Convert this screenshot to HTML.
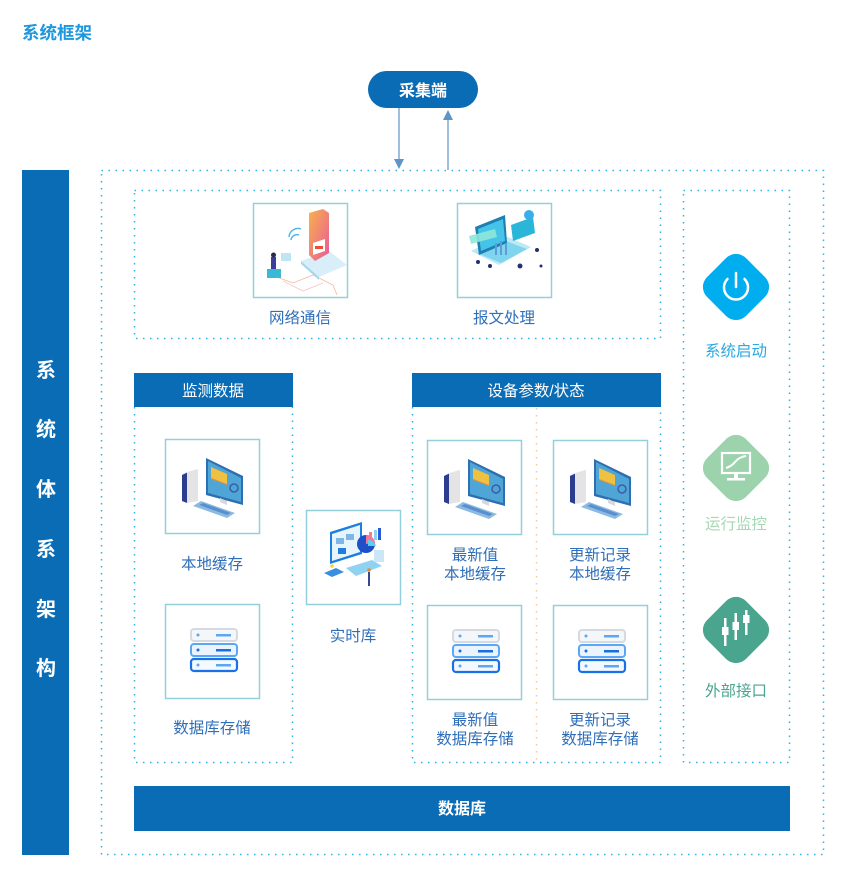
<!DOCTYPE html>
<html><head><meta charset="utf-8"><style>
html,body{margin:0;padding:0;background:#fff;}
svg{display:block;}
text{font-family:"Liberation Sans","Noto Sans CJK SC",sans-serif;}
</style></head><body>
<svg width="850" height="874" viewBox="0 0 850 874" xmlns="http://www.w3.org/2000/svg">
<defs>
<linearGradient id="ph" x1="0" y1="0" x2="1" y2="1"><stop offset="0" stop-color="#f9b24a"/><stop offset="1" stop-color="#e85a9a"/></linearGradient>
<g id="comp">
  <polygon points="22,33 33,30 33,62 22,64" fill="#e4e4e6"/>
  <polygon points="17,36 22,33 22,64 17,62" fill="#2a3d8f"/>
  <polygon points="17,36 28,31 33,30 22,33" fill="#f2f2f4"/>
  <polygon points="41,19 78,37 78,66 41,56" fill="#2d6fb0"/>
  <polygon points="43,22 76,39 76,63 43,54" fill="#4fa6d6"/>
  <polygon points="46,28 62,35 62,45 46,39" fill="#f0c040"/>
  <polygon points="46,39 62,45 62,46 46,40" fill="#e8903a"/>
  <circle cx="69" cy="49" r="4" fill="none" stroke="#3a5ea8" stroke-width="1.5"/>
  <polygon points="55,59 62,62 62,66 55,63" fill="#d8d8dc"/>
  <polygon points="36,62 70,74 62,79 28,67" fill="#8cbbe2"/>
  <polygon points="38,64 66,74 62,76 34,66" fill="#5a8fcf"/>
</g>
<g id="srv">
  <rect x="26" y="25" width="46" height="12" rx="3" fill="#f4f6f9" stroke="#d5dae2" stroke-width="2"/>
  <circle cx="33" cy="31" r="1.5" fill="#5aa8f5"/><rect x="51" y="30" width="15" height="2.5" fill="#5aa8f5"/>
  <rect x="26" y="40" width="46" height="12" rx="3" fill="#eaf3fe" stroke="#5aa8f5" stroke-width="2"/>
  <circle cx="33" cy="46" r="1.5" fill="#1a6fe0"/><rect x="51" y="45" width="15" height="2.5" fill="#1a6fe0"/>
  <rect x="26" y="55" width="46" height="12" rx="3" fill="#f4f8ff" stroke="#1a70e6" stroke-width="2.2"/>
  <circle cx="33" cy="61" r="1.5" fill="#5aa8f5"/><rect x="51" y="60" width="15" height="2.5" fill="#5aa8f5"/>
</g>
</defs>

<!-- title -->
<text x="22" y="39" font-size="17.5" font-weight="bold" fill="#1e97dc">系统框架</text>

<!-- pill -->
<rect x="368" y="71" width="110" height="37" rx="18.5" fill="#0b6cb6"/>
<text x="423" y="96" font-size="16" font-weight="bold" fill="#fff" text-anchor="middle">采集端</text>

<!-- arrows -->
<line x1="399" y1="108" x2="399" y2="161" stroke="#7eaad2" stroke-width="1.5"/>
<polygon points="394,159 404,159 399,169" fill="#5f95c6"/>
<line x1="448" y1="170" x2="448" y2="117" stroke="#7eaad2" stroke-width="1.5"/>
<polygon points="443,120 453,120 448,110" fill="#5f95c6"/>

<!-- left bar -->
<rect x="22" y="170" width="47" height="685" fill="#0b6cb6"/>
<g font-size="20" font-weight="bold" fill="#fff" text-anchor="middle">
<text x="46" y="377">系</text><text x="46" y="436">统</text><text x="46" y="496">体</text>
<text x="46" y="556">系</text><text x="46" y="616">架</text><text x="46" y="675">构</text>
</g>

<!-- dotted boxes -->
<g fill="none" stroke="#2ab3e6" stroke-width="1.5" stroke-dasharray="1.5 5.5">
<rect x="101.5" y="170.5" width="722" height="684"/>
<rect x="134.5" y="190.5" width="526" height="148"/>
<rect x="683.5" y="190.5" width="106" height="572"/>
<polyline points="134.5,407 134.5,762.5 292.5,762.5 292.5,407"/>
<polyline points="412.5,407 412.5,762.5 660.5,762.5 660.5,407"/>
</g>
<line x1="536.5" y1="408" x2="536.5" y2="762" stroke="#f6c898" stroke-width="1.5" stroke-dasharray="1.5 5.5"/>

<!-- headers -->
<rect x="134" y="373" width="159" height="34" fill="#0b6cb6"/>
<text x="213" y="396" font-size="15.5" fill="#fff" text-anchor="middle">监测数据</text>
<rect x="412" y="373" width="249" height="34" fill="#0b6cb6"/>
<text x="536" y="396" font-size="15.5" fill="#fff" text-anchor="middle">设备参数/状态</text>

<!-- database bar -->
<rect x="134" y="786" width="656" height="45" fill="#0b6cb6"/>
<text x="462" y="814" font-size="16" font-weight="bold" fill="#fff" text-anchor="middle">数据库</text>

<!-- image boxes -->
<g fill="#fff" stroke="#93cfdc" stroke-width="1.5">
<rect x="253.5" y="203.5" width="94" height="94"/>
<rect x="457.5" y="203.5" width="94" height="94"/>
<rect x="165.5" y="439.5" width="94" height="94"/>
<rect x="165.5" y="604.5" width="94" height="94"/>
<rect x="306.5" y="510.5" width="94" height="94"/>
<rect x="427.5" y="440.5" width="94" height="94"/>
<rect x="553.5" y="440.5" width="94" height="94"/>
<rect x="427.5" y="605.5" width="94" height="94"/>
<rect x="553.5" y="605.5" width="94" height="94"/>
</g>

<!-- network illustration -->
<g transform="translate(253,203)">
  <polyline points="18,72 40,80 60,72 80,82 84,92" fill="none" stroke="#f2b8a0" stroke-width="0.8"/>
  <polyline points="30,78 50,88 70,80" fill="none" stroke="#f6c8c0" stroke-width="0.8"/>
  <polygon points="48,58 76,48 94,62 66,74" fill="#d8eef8"/>
  <polygon points="48,58 66,74 66,77 48,61" fill="#a8d6ee"/>
  <polygon points="56,10 70,6 76,10 76,50 62,58 56,52" fill="url(#ph)"/>
  <polygon points="60,40 72,36 72,48 60,52" fill="#fff"/>
  <rect x="62" y="43" width="8" height="3" fill="#e8503a"/>
  <path d="M36,34 a9,9 0 0 1 12,-8" fill="none" stroke="#58b8e0" stroke-width="1.5"/>
  <path d="M38,37 a6,6 0 0 1 8,-5" fill="none" stroke="#58b8e0" stroke-width="1.5"/>
  <rect x="28" y="50" width="10" height="8" fill="#bfe6f0"/>
  <rect x="14" y="66" width="14" height="9" fill="#3ab8d8"/>
  <rect x="18" y="54" width="5" height="12" fill="#3a3e9a"/>
  <circle cx="20.5" cy="52" r="2.5" fill="#2a2a4a"/>
</g>

<!-- message processing illustration -->
<g transform="translate(457,203)">
  <polygon points="14,48 46,32 74,44 42,62" fill="#bde8f6"/>
  <polygon points="20,50 46,37 70,46 44,60" fill="#7fd4ee"/>
  <polygon points="18,24 48,12 50,40 22,52" fill="#1d7fb2"/>
  <polygon points="21,26 46,16 48,38 24,48" fill="#45c3e8"/>
  <polygon points="54,22 76,14 78,30 56,38" fill="#2ab6d8"/>
  <polygon points="12,33 38,26 40,34 14,41" fill="#8ee8d8" opacity="0.9"/>
  <circle cx="72" cy="12" r="5" fill="#3aaee8"/>
  <rect x="38" y="40" width="2" height="12" fill="#5a9ed8"/>
  <rect x="43" y="38" width="2" height="14" fill="#5a9ed8"/>
  <rect x="48" y="40" width="2" height="12" fill="#5a9ed8"/>
  <circle cx="21" cy="59" r="2" fill="#223070"/><circle cx="33" cy="63" r="2" fill="#223070"/>
  <circle cx="63" cy="63" r="2.5" fill="#223070"/><circle cx="80" cy="47" r="2" fill="#223070"/>
  <circle cx="84" cy="63" r="1.5" fill="#223070"/>
</g>

<!-- computers -->
<use href="#comp" transform="translate(165,439)"/>
<use href="#comp" transform="translate(427,440)"/>
<use href="#comp" transform="translate(553,440)"/>
<!-- servers -->
<use href="#srv" transform="translate(165,604)"/>
<use href="#srv" transform="translate(427,605)"/>
<use href="#srv" transform="translate(553,605)"/>

<!-- realtime db illustration -->
<g transform="translate(306,510)">
  <polygon points="24,22 56,12 56,44 24,54" fill="#1e7ee0"/>
  <polygon points="26,24 54,15 54,42 26,51" fill="#e6f4fc"/>
  <rect x="30" y="28" width="8" height="6" fill="#7eb6e8"/><rect x="40" y="24" width="8" height="6" fill="#7eb6e8"/>
  <rect x="32" y="38" width="8" height="6" fill="#1e7ee0"/>
  <circle cx="60" cy="34" r="9" fill="#1e50c8"/>
  <path d="M60,25 a9,9 0 0 1 9,8 l-9,1z" fill="#f07a98"/>
  <path d="M62,30 a8,8 0 0 1 8,6 l-8,0z" fill="#5ad0f0"/>
  <rect x="63" y="22" width="3" height="8" fill="#f07a98"/><rect x="68" y="20" width="3" height="10" fill="#8ad2f0"/><rect x="72" y="18" width="3" height="12" fill="#2a5ad8"/>
  <polygon points="40,58 66,50 76,56 50,66" fill="#8fd2f2"/>
  <polygon points="18,63 30,58 38,62 26,67" fill="#3a8ee0"/>
  <rect x="68" y="40" width="10" height="12" fill="#cbe6f6"/>
  <rect x="62" y="62" width="2" height="14" fill="#344a90"/>
  <circle cx="63" cy="60" r="1.8" fill="#e88a3a"/>
  <circle cx="26" cy="56" r="1.8" fill="#f2d040"/>
</g>

<!-- labels -->
<g font-size="15.5" fill="#2f6fba" text-anchor="middle">
<text x="300" y="323">网络通信</text>
<text x="504" y="323">报文处理</text>
<text x="212" y="569">本地缓存</text>
<text x="212" y="733">数据库存储</text>
<text x="353" y="641">实时库</text>
<text x="475" y="560">最新值</text>
<text x="475" y="579">本地缓存</text>
<text x="600" y="560">更新记录</text>
<text x="600" y="579">本地缓存</text>
<text x="475" y="725">最新值</text>
<text x="475" y="744">数据库存储</text>
<text x="600" y="725">更新记录</text>
<text x="600" y="744">数据库存储</text>
</g>

<!-- right icons -->
<rect x="708.5" y="259.5" width="55" height="55" rx="14" fill="#00aeef" transform="rotate(45 736 287)"/>
<path d="M727.5,279 a12,12 0 1 0 17,0" fill="none" stroke="#fff" stroke-width="2.5" stroke-linecap="round"/>
<line x1="736" y1="273" x2="736" y2="287" stroke="#fff" stroke-width="2.5" stroke-linecap="round"/>
<text x="736" y="356" font-size="15.5" fill="#29a8e0" text-anchor="middle">系统启动</text>

<rect x="708.5" y="440.5" width="55" height="55" rx="14" fill="#9dd3ac" transform="rotate(45 736 468)"/>
<rect x="722" y="453" width="28" height="20" fill="none" stroke="#fff" stroke-width="2.2"/>
<path d="M726,468 q6,-2 9,-6 q4,-5 11,-6" fill="none" stroke="#fff" stroke-width="2"/>
<rect x="734" y="473" width="4" height="5" fill="#fff"/>
<rect x="727" y="478" width="18" height="2.5" fill="#fff"/>
<text x="736" y="529" font-size="15.5" fill="#a6d8b5" text-anchor="middle">运行监控</text>

<rect x="708.5" y="602.5" width="55" height="55" rx="14" fill="#4aa58e" transform="rotate(45 736 630)"/>
<g fill="#fff">
<rect x="724" y="618" width="2.5" height="28"/><rect x="722" y="627" width="6.5" height="8"/>
<rect x="734.5" y="613" width="2.5" height="27"/><rect x="732.5" y="622" width="6.5" height="8"/>
<rect x="745" y="610" width="2.5" height="25"/><rect x="743" y="615" width="6.5" height="8"/>
</g>
<text x="736" y="696" font-size="15.5" fill="#4aa58e" text-anchor="middle">外部接口</text>
</svg>
</body></html>
